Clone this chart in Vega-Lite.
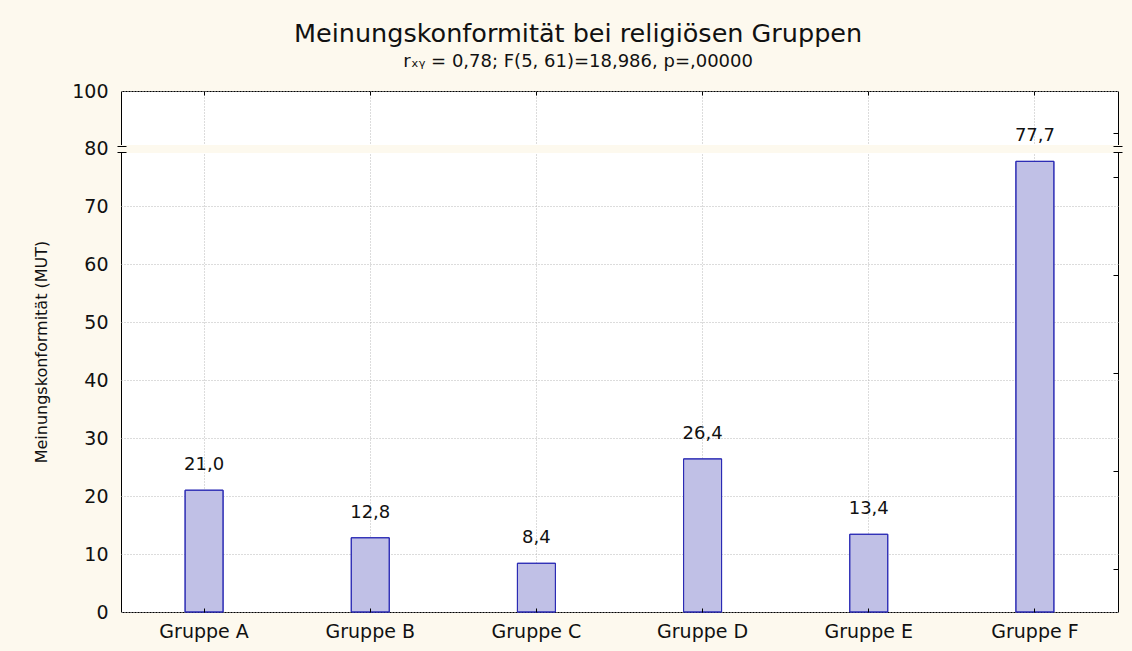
{
  "$schema": "https://vega.github.io/schema/vega-lite/v6.json",
  "width": 997,
  "height": 521,
  "autosize": {"type": "none"},
  "padding": {"left": 121, "top": 91, "right": 14, "bottom": 39},
  "background": "#fdf9ee",
  "title": {
    "text": "Meinungskonformität bei religiösen Gruppen",
    "subtitle": "rₓᵧ = 0,78; F(5, 61)=18,986, p=,00000",
    "anchor": "middle",
    "frame": "bounds",
    "font": "DejaVu Sans",
    "subtitleFont": "DejaVu Sans",
    "fontSize": 25.5,
    "fontWeight": "normal",
    "subtitleFontSize": 18,
    "color": "#111111",
    "subtitleColor": "#111111",
    "offset": 11,
    "subtitlePadding": 6
  },
  "config": {
    "font": "DejaVu Sans",
    "view": {"fill": "white", "stroke": "black", "strokeWidth": 1},
    "locale": {"number": {"decimal": ",", "thousands": ".", "grouping": [3], "currency": ["", "€"]}}
  },
  "datasets": {
    "gruppen": [
      {"gruppe": "Gruppe A", "wert": 21.0},
      {"gruppe": "Gruppe B", "wert": 12.8},
      {"gruppe": "Gruppe C", "wert": 8.4},
      {"gruppe": "Gruppe D", "wert": 26.4},
      {"gruppe": "Gruppe E", "wert": 13.4},
      {"gruppe": "Gruppe F", "wert": 77.7}
    ],
    "bruch": [{"von": 79.3, "bis": 80.7}]
  },
  "resolve": {"axis": {"x": "independent", "y": "independent"}},
  "layer": [
    {
      "data": {"name": "gruppen"},
      "mark": {"type": "bar", "size": 38, "fill": "#c0c0e6", "stroke": "#2a2ab4", "strokeWidth": 1},
      "encoding": {
        "x": {
          "field": "gruppe", "type": "nominal", "sort": null,
          "scale": {"paddingInner": 0, "paddingOuter": 0},
          "axis": {"orient": "bottom", "title": null, "labelAngle": 0, "labelFontSize": 19, "labelColor": "#111111", "labelPadding": 10, "ticks": false, "domain": false, "grid": true, "gridColor": "#b8b8b8", "gridDash": [1, 2], "bandPosition": 0.5}
        },
        "y": {
          "field": "wert", "type": "quantitative",
          "scale": {"domain": [0, 80, 100], "range": [521, 57, 0], "nice": false, "zero": false},
          "axis": {"orient": "left", "values": [0, 10, 20, 30, 40, 50, 60, 70, 80, 100], "title": "Meinungskonformität (MUT)", "titleFontSize": 16, "titleFontWeight": "normal", "titleColor": "#111111", "titlePadding": 22, "labelFontSize": 19, "labelColor": "#111111", "labelPadding": 13, "ticks": false, "domain": false, "grid": true, "gridColor": "#b8b8b8", "gridDash": [1, 2]}
        }
      }
    },
    {
      "data": {"name": "bruch"},
      "mark": {"type": "rect", "fill": "#fdf9ee", "stroke": "#fdf9ee", "strokeWidth": 2},
      "encoding": {
        "y": {
          "field": "von", "type": "quantitative",
          "scale": {"domain": [0, 80, 100], "range": [521, 57, 0], "nice": false, "zero": false},
          "axis": {"orient": "left", "values": [79.3, 80.7], "labels": false, "domain": false, "ticks": true, "tickSize": 9, "offset": -5, "tickColor": "#000000", "grid": false, "title": null, "zindex": 1}
        },
        "y2": {"field": "bis"}
      }
    },
    {
      "data": {"name": "gruppen"},
      "mark": {"type": "text", "dy": -25, "fontSize": 18, "color": "#111111"},
      "encoding": {
        "x": {
          "field": "gruppe", "type": "nominal", "sort": null,
          "scale": {"paddingInner": 0, "paddingOuter": 0},
          "axis": {"orient": "top", "labels": false, "domain": false, "ticks": true, "tickSize": 4, "offset": -4, "tickColor": "#000000", "grid": false, "title": null, "bandPosition": 0.5, "zindex": 1}
        },
        "y": {
          "field": "wert", "type": "quantitative",
          "scale": {"domain": [0, 80, 100], "range": [521, 57, 0], "nice": false, "zero": false},
          "axis": {"orient": "right", "values": [7.4, 24.3, 41.2, 58.1, 75, 85.3], "labels": false, "domain": false, "ticks": true, "tickSize": 5, "offset": -5, "tickColor": "#000000", "grid": false, "title": null, "zindex": 1}
        },
        "text": {"field": "wert", "type": "quantitative", "format": ".1f"}
      }
    },
    {
      "data": {"name": "gruppen"},
      "mark": {"type": "bar", "size": 38, "fillOpacity": 0, "stroke": "#2a2ab4", "strokeWidth": 1},
      "encoding": {
        "x": {
          "field": "gruppe", "type": "nominal", "sort": null,
          "scale": {"paddingInner": 0, "paddingOuter": 0},
          "axis": {"orient": "bottom", "labels": false, "domain": false, "ticks": true, "tickSize": 4, "offset": -4, "tickColor": "#000000", "grid": false, "title": null, "bandPosition": 0.5, "zindex": 1}
        },
        "y": {
          "field": "wert", "type": "quantitative",
          "scale": {"domain": [0, 80, 100], "range": [521, 57, 0], "nice": false, "zero": false},
          "axis": {"orient": "right", "values": [79.3, 80.7], "labels": false, "domain": false, "ticks": true, "tickSize": 9, "offset": -5, "tickColor": "#000000", "grid": false, "title": null, "zindex": 1}
        }
      }
    }
  ]
}
